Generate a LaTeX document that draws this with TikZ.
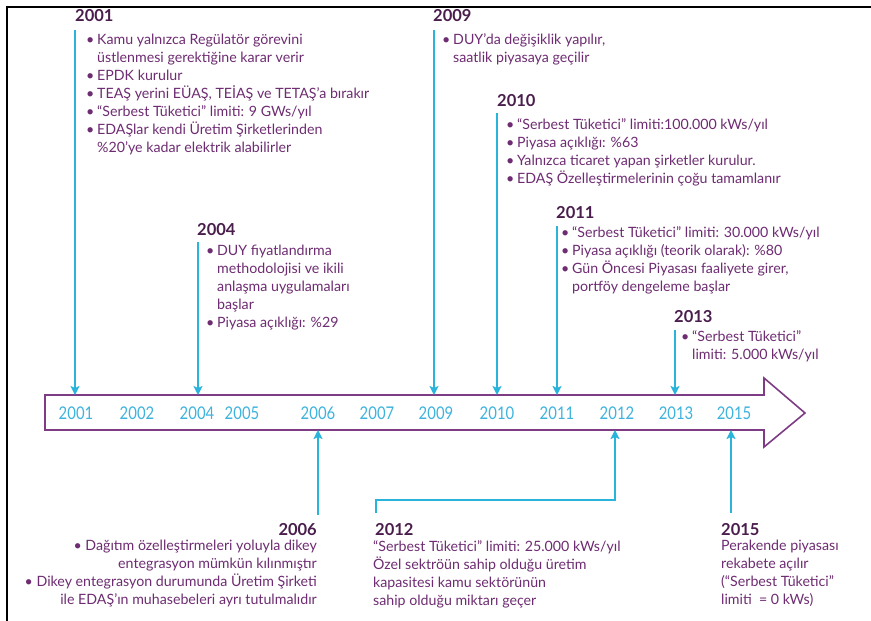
\documentclass[tikz,border=0pt]{standalone}
\usepackage{fontspec}
\setmainfont{Lato}
\usetikzlibrary{arrows.meta}
\definecolor{cyl}{HTML}{2AB4DC}
\definecolor{arrc}{HTML}{7D3C84}
\definecolor{txtc}{HTML}{6E2C72}
\definecolor{hdc}{HTML}{4A1E4C}
\definecolor{yrc}{HTML}{3DB3DD}
\newcommand\bu{\makebox[11pt][l]{\textbullet}}
\newcommand\ind{\hspace*{11pt}}
\begin{document}
\begin{tikzpicture}[x=1pt,y=-1pt,
  conn/.style={draw=cyl,line width=1.8pt,-{Stealth[length=9pt,width=9pt,inset=2pt]}},
  hd/.style={anchor=west,inner sep=0pt,text=hdc,font=\fontsize{16.5}{18}\bfseries\selectfont},
  txt/.style={anchor=north west,inner sep=0pt,align=left,text=txtc,font=\fontsize{14.2}{18}\selectfont},
  yr/.style={inner sep=0pt,text=yrc,font=\fontsize{17.5}{17}\selectfont,xscale=0.85}]
\useasboundingbox (0,0) rectangle (871,621);
\fill[white] (0,0) rectangle (871,621);
% frame
\draw[black,line width=2.5pt] (7,621) -- (7,7) -- (871,7);
% big arrow
\draw[arrc,line width=1.6pt,fill=white,line join=miter]
  (45,395) -- (764,395) -- (764,378) -- (805,413) -- (764,447) -- (764,430) -- (45,430) -- cycle;
% year labels
\foreach \yy/\xx in {2001/76,2002/137,2004/197,2005/242,2006/318,2007/377,2009/436,2010/497,2011/557,2012/617,2013/676,2015/734}
  \node[yr] (y\yy) at (\xx,413) {\yy};
% arrow anchor coordinates
\coordinate (t2001) at (75,395);
\coordinate (t2004) at (198,395);
\coordinate (t2009) at (434,395);
\coordinate (t2010) at (497,395);
\coordinate (t2011) at (557,395);
\coordinate (t2013) at (675,395);
\coordinate (b2006) at (318,430);
\coordinate (b2012) at (615,430);
\coordinate (b2015) at (731,430);
% start coordinates
\coordinate (s2001) at (75,30);
\coordinate (s2004) at (198,242);
\coordinate (s2009) at (434,30);
\coordinate (s2010) at (497,113);
\coordinate (s2011) at (557,226);
\coordinate (s2013) at (675,330);
\coordinate (s2006) at (318,515);
\coordinate (s2012) at (376,513);
\coordinate (k2012) at (615,500);
\coordinate (s2015) at (731,513);
% connectors
\draw[conn] (s2001) -- (t2001);
\draw[conn] (s2004) -- (t2004);
\draw[conn] (s2009) -- (t2009);
\draw[conn] (s2010) -- (t2010);
\draw[conn] (s2011) -- (t2011);
\draw[conn] (s2013) -- (t2013);
\draw[conn] (s2006) -- (b2006);
\draw[conn] (s2012) |- (k2012) -- (b2012);
\draw[conn] (s2015) -- (b2015);
% headings
\node[hd] (h2001) at (75,16) {2001};
\node[hd] (h2009) at (433,16) {2009};
\node[hd] (h2010) at (497,101) {2010};
\node[hd] (h2004) at (197,230) {2004};
\node[hd] (h2011) at (556,213) {2011};
\node[hd] (h2013) at (674,317) {2013};
\node[hd,anchor=east] (h2006) at (317,530) {2006};
\node[hd] (h2012) at (375,530) {2012};
\node[hd] (h2015) at (721,530) {2015};
% texts
\node[txt] (x2001) at (86,34) {\bu Kamu yalnızca Regülatör görevini\\
 \ind üstlenmesi gerektiğine karar verir\\
 \bu EPDK kurulur\\
 \bu TEAŞ yerini EÜAŞ, TEİAŞ ve TETAŞ'a bırakır\\
 \bu “Serbest Tüketici” limiti: 9 GWs/yıl\\
 \bu EDAŞlar kendi Üretim Şirketlerinden\\
 \ind \%20'ye kadar elektrik alabilirler};
\node[txt] (x2009) at (442,33) {\bu DUY'da değişiklik yapılır,\\
 \ind saatlik piyasaya geçilir};
\node[txt] (x2010) at (506,118) {\bu “Serbest Tüketici” limiti:100.000 kWs/yıl\\
 \bu Piyasa açıklığı: \%63\\
 \bu Yalnızca ticaret yapan şirketler kurulur.\\
 \bu EDAŞ Özelleştirmelerinin çoğu tamamlanır};
\node[txt] (x2004) at (206,245) {\bu DUY fiyatlandırma\\
 \ind methodolojisi ve ikili\\
 \ind anlaşma uygulamaları\\
 \ind başlar\\
 \bu Piyasa açıklığı: \%29};
\node[txt] (x2011) at (561,226) {\bu “Serbest Tüketici” limiti: 30.000 kWs/yıl\\
 \bu Piyasa açıklığı (teorik olarak): \%80\\
 \bu Gün Öncesi Piyasası faaliyete girer,\\
 \ind portföy dengeleme başlar};
\node[txt] (x2013) at (681,330) {\bu “Serbest Tüketici”\\
 \ind limiti: 5.000 kWs/yıl};
\node[txt,anchor=north east,align=right] (x2006) at (317,540) {\textbullet\ Dağıtım özelleştirmeleri yoluyla dikey\\
 entegrasyon mümkün kılınmıştır\\
 \textbullet\ Dikey entegrasyon durumunda Üretim Şirketi\\
 ile EDAŞ'ın muhasebeleri ayrı tutulmalıdır};
\node[txt] (x2012) at (373,540) {“Serbest Tüketici” limiti: 25.000 kWs/yıl\\
 Özel sektröün sahip olduğu üretim\\
 kapasitesi kamu sektörünün\\
 sahip olduğu miktarı geçer};
\node[txt] (x2015) at (721,540) {Perakende piyasası\\
 rekabete açılır\\
 (“Serbest Tüketici”\\
 limiti~~= 0 kWs)};
\end{tikzpicture}
\end{document}
